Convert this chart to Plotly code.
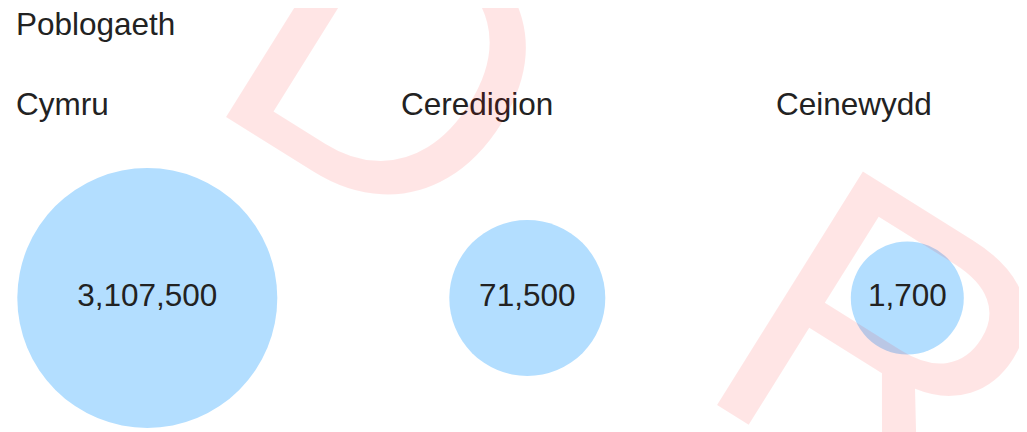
import plotly.graph_objects as go

# ---- data ----
title_text = "Poblogaeth"
areas = ["Cymru", "Ceredigion", "Ceinewydd"]
population = [3107500, 71500, 1700]

# ---- style ----
marker_px = [260, 156, 113]          # circle diameters (px)
label_shift_px = [-133, -128, -133]  # heading offset from circle centre (px)
circle_color = "rgb(179,222,255)"
text_color = "#222222"
font_family = "Liberation Sans, Arial, sans-serif"
fs = 31.5
W, H = 1027, 432
OFF = 8  # page body margin compensation

labels = [f"{v:,}" for v in population]

fig = go.Figure()
fig.add_trace(go.Scatter(
    x=areas,
    y=[0] * len(areas),
    mode="markers+text",
    marker=dict(size=marker_px, color=circle_color, line=dict(width=0), opacity=1),
    text=labels,
    textposition="middle center",
    textfont=dict(family=font_family, size=fs, color=text_color),
    hoverinfo="skip",
    showlegend=False,
))

annotations = []
# title
annotations.append(dict(
    text=title_text, xref="paper", yref="paper", x=(17 - OFF - 3) / W, y=1 - (23.5 - OFF) / H,
    xanchor="left", yanchor="middle", showarrow=False,
    font=dict(family=font_family, size=fs, color=text_color),
))
# column headings
for a, sh in zip(areas, label_shift_px):
    annotations.append(dict(
        text=a, xref="x", yref="paper", x=a, y=1 - (104 - OFF) / H,
        xanchor="left", yanchor="middle", xshift=sh, showarrow=False,
        font=dict(family=font_family, size=fs, color=text_color),
    ))
# watermark letters
for ch, px, py in [("D", 386, 50), ("R", 877, 338)]:
    annotations.append(dict(
        text=ch, xref="paper", yref="paper", x=px / W, y=1 - py / H,
        xanchor="center", yanchor="middle", showarrow=False, textangle=32,
        font=dict(family=font_family, size=400, color="rgba(255,0,0,0.1)"),
    ))

x0 = 139.3  # pixel of first category
step = 380
yc = 298 - OFF
fig.update_layout(
    width=W, height=H,
    margin=dict(l=0, r=0, t=0, b=0),
    paper_bgcolor="white", plot_bgcolor="white",
    xaxis=dict(type="category", range=[(0 - x0) / step, (W - x0) / step],
               visible=False, showgrid=False, zeroline=False, fixedrange=True),
    yaxis=dict(range=[-(H - yc), yc], visible=False, showgrid=False,
               zeroline=False, fixedrange=True),
    annotations=annotations,
    showlegend=False,
)

fig.write_html("out.html")
